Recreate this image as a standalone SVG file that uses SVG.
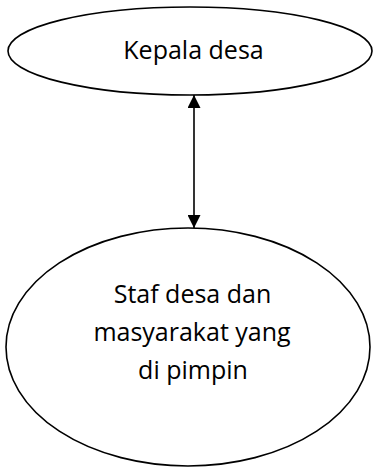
<svg xmlns="http://www.w3.org/2000/svg" width="374" height="470" viewBox="0 0 374 470">
<style>
.shape{fill:#fff;stroke:#000;stroke-width:1.6}
.lbl{font-family:"Open Sans","Noto Sans","Liberation Sans",sans-serif;font-size:25px;fill:#000;text-anchor:middle}
.conn{stroke:#000;stroke-width:1.6;fill:none}
</style>
<defs>
<marker id="ah" viewBox="0 0 10 10" refX="10" refY="5" markerWidth="13" markerHeight="13" markerUnits="userSpaceOnUse" orient="auto-start-reverse">
<path d="M0,0 L10,5 L0,10 Z" fill="#000"/>
</marker>
</defs>
<g id="kepala">
<ellipse class="shape" cx="190" cy="51" rx="182" ry="44"/>
<text class="lbl" x="193.5" y="59">Kepala desa</text>
</g>
<g id="staf">
<ellipse class="shape" cx="188" cy="347" rx="182" ry="119"/>
<text class="lbl" x="192.5" y="303">Staf desa dan</text>
<text class="lbl" x="192" y="341">masyarakat yang</text>
<text class="lbl" x="193" y="379">di pimpin</text>
</g>
<g id="connectors">
<line class="conn" x1="194" y1="95" x2="194" y2="228" marker-start="url(#ah)" marker-end="url(#ah)"/>
</g>
</svg>
